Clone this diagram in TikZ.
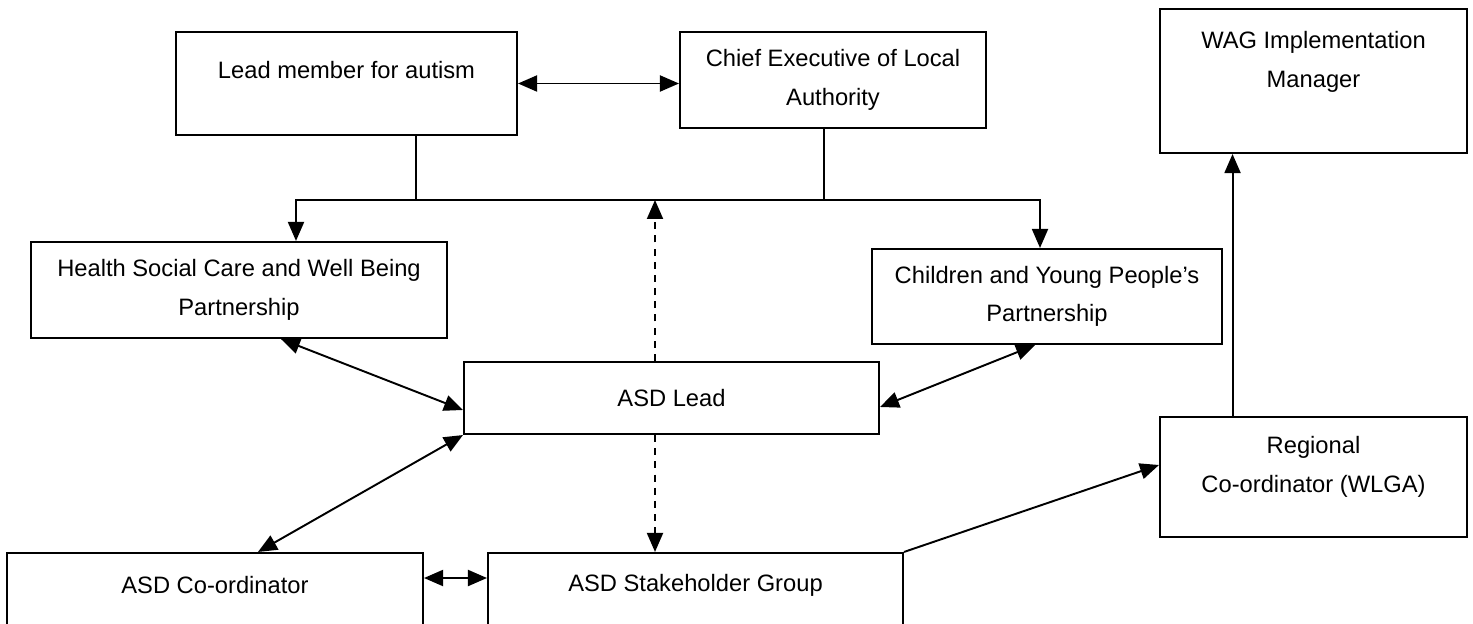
\documentclass[tikz,border=0pt]{standalone}
\usepackage{fontspec}
\setmainfont{Liberation Sans}
\usetikzlibrary{arrows.meta,positioning}

\begin{document}
\begin{tikzpicture}[x=0.02cm, y=-0.02cm, line width=1.1pt,
  >={Triangle[length=3.8mm,width=3.2mm]},
  box/.style={draw, line width=1.2pt, inner sep=0pt},
  lbl/.style={align=center, font=\fontsize{13.5}{22}\selectfont}]

\useasboundingbox (0,0) rectangle (1473,624);
\clip (0,0) rectangle (1473,624);

% Top row
\node[box, minimum width=6.82cm, minimum height=2.06cm] (lead) at (346.5,83.5) {};
\node[lbl] (leadtxt) at (346.5,70) {Lead member for autism};
\node[box, lbl, minimum width=6.12cm, minimum height=1.92cm] (chief) at (833,80) {Chief Executive of Local\\Authority};
\node[box, minimum width=6.14cm, minimum height=2.88cm] (wag) at (1313.5,81) {};
\node[lbl] (wagtxt) at (1313.5,62) {WAG Implementation\\Manager};

% Partnerships
\node[box, lbl, minimum width=8.32cm, minimum height=1.92cm] (health) at (239,290) {Health Social Care and Well Being\\Partnership};
\node[box, lbl, minimum width=7.0cm, minimum height=1.9cm] (children) at (1047,296.5) {Children and Young People's\\Partnership};

% Middle
\node[box, lbl, minimum width=8.3cm, minimum height=1.44cm] (asdlead) at (671.5,398) {ASD Lead};
\node[box, minimum width=6.14cm, minimum height=2.4cm] (regional) at (1313.5,477) {};
\node[lbl] (regionaltxt) at (1313.5,467) {Regional\\Co-ordinator (WLGA)};

% Bottom row
\node[box, minimum width=8.32cm, minimum height=2.2cm] (coord) at (215,608) {};
\node[lbl] (coordtxt) at (215,585) {ASD Co-ordinator};
\node[box, minimum width=8.3cm, minimum height=2.2cm] (stake) at (695.5,608) {};
\node[lbl] (staketxt) at (695.5,585) {ASD Stakeholder Group};

% Bus
\coordinate (jL) at (416,200);
\coordinate (jR) at (824,200);
\coordinate (busW) at (296,200);
\coordinate (busE) at (1040,200);
\coordinate (dtop) at (655,200);

\draw[<->] (lead.east) -- (lead.east -| chief.west);
\draw (jL |- lead.south) -- (jL);
\draw (jR |- chief.south) -- (jR);
\draw[<->] (busW |- health.north) -- (busW) -- (busE) -- (busE |- children.north);

% Dashed links
\draw[->, dash pattern=on 4pt off 3.5pt] (dtop |- asdlead.north) -- (dtop);
\draw[->, dash pattern=on 4pt off 3.5pt] (dtop |- asdlead.south) -- (dtop |- stake.north);

% Two-way links
\draw[<->] ([xshift=0.84cm]health.south) -- ([yshift=-0.24cm]asdlead.west);
\draw[<->] ([xshift=-0.24cm]children.south) -- ([yshift=-0.18cm]asdlead.east);
\draw[<->] (asdlead.south west) -- ([xshift=0.86cm]coord.north);
\draw[<->] ([yshift=0.6cm]coord.east) -- ([yshift=0.6cm]stake.west);

% Regional links
\draw[->] (stake.north east) -- ([yshift=0.24cm]regional.west);
\draw[->] ([xshift=-1.62cm]regional.north) -- ([xshift=-1.62cm]regional.north |- wag.south);

\end{tikzpicture}
\end{document}
